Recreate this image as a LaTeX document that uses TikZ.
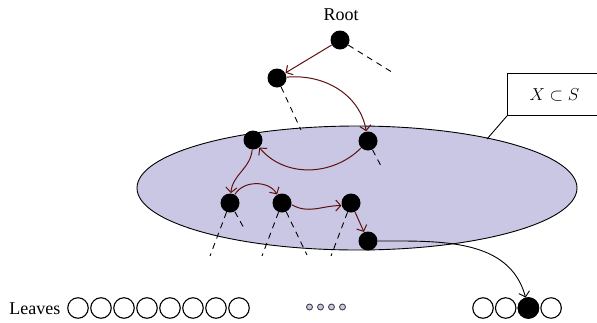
\documentclass[tikz,border=0pt]{standalone}
\usepackage{fontspec}
\setmainfont{Liberation Serif}
\usepackage{tikz}
\usetikzlibrary{arrows.meta}
\definecolor{lav}{RGB}{201, 199, 227}
\definecolor{dark}{RGB}{95, 15, 15}

\begin{document}
\begin{tikzpicture}[x=1pt, y=1pt, thick,
    vert/.style={circle, fill=black, minimum size=19pt, inner sep=0pt},
    leaf/.style={circle, draw=black, line width=1.1pt, minimum size=20.5pt, inner sep=0pt},
    tiny/.style={circle, draw=black!80, fill=lav, line width=0.8pt, minimum size=6pt, inner sep=0pt},
    walk/.style={-{Straight Barb[length=5pt, width=11pt]}, color=dark, line width=1pt},
    hang/.style={dash pattern=on 6pt off 5pt, line width=0.9pt}]
  \useasboundingbox (0, 0) rectangle (597, -322);

  % Set X
  \draw [fill=lav, line width=0.9pt] (357, -188) ellipse [x radius=220, y radius=62];
  \coordinate (rim) at (487, -139);
  \node [draw, line width=0.9pt, minimum width=94pt, minimum height=42pt, anchor=north west,
    font=\fontsize{16}{18}\selectfont] (xbox) at (507, -73) {$X \subset S$};
  \draw [line width=0.9pt] (xbox.south west) -- (rim);

  % Tree nodes
  \node [font=\fontsize{18}{21}\selectfont] (roottext) at (341, -15) {Root};
  \node [vert] (root) at (340, -40) {};
  \node [vert] (a) at (277, -78) {};
  \node [vert] (b) at (368, -141) {};
  \node [vert] (c) at (253, -140) {};
  \node [vert] (d) at (230, -203) {};
  \node [vert] (e) at (282, -203) {};
  \node [vert] (f) at (351, -203) {};
  \node [vert] (g) at (368, -241) {};

  % Loose branches
  \coordinate (rootend) at (395, -74);
  \coordinate (aend) at (301, -130);
  \coordinate (bend) at (382, -168);
  \coordinate (dleft) at (210, -256);
  \coordinate (dright) at (245, -230);
  \coordinate (eleft) at (262, -256);
  \coordinate (eright) at (307, -255);
  \coordinate (fleft) at (331, -256);
  \draw [hang] (root) -- (rootend);
  \draw [hang] (a) -- (aend);
  \draw [hang] (b) -- (bend);
  \draw [hang] (d) -- (dleft);
  \draw [hang] (d) -- (dright);
  \draw [hang] (e) -- (eleft);
  \draw [hang] (e) -- (eright);
  \draw [hang] (f) -- (fleft);

  % Walk
  \draw [walk] (root) -- (a);
  \draw [walk] (a) to [out=5, in=100] (b);
  \draw [walk] (b) to [out=-135, in=-50] (c);
  \draw [walk] (c) to [out=-95, in=85] (d);
  \draw [walk] (d) to [out=60, in=120] (e);
  \draw [walk] (e.-10) to [out=-30, in=180] (f.195);
  \draw [walk] (f) -- (g);

  % Leaves
  \node [font=\fontsize{18}{21}\selectfont, anchor=base east] (leaftext) at (64, -314) {Leaves};
  \foreach \i in {1,...,8}
    \node [leaf] (l\i) at ({78 + 23*(\i-1)}, -308) {};
  \foreach \i in {1,...,4}
    \node [tiny] (s\i) at ({309.5 + 11*(\i-1)}, -307) {};
  \foreach \i in {1,...,4}
    \node [leaf] (r\i) at ({483 + 22.7*(\i-1)}, -308) {};
  \node [leaf, fill=black] at (r3) {};

  \draw [-{Straight Barb[length=5pt, width=11pt]}, line width=0.9pt] (g) to [out=0, in=105] (r3);

\end{tikzpicture}
\end{document}
